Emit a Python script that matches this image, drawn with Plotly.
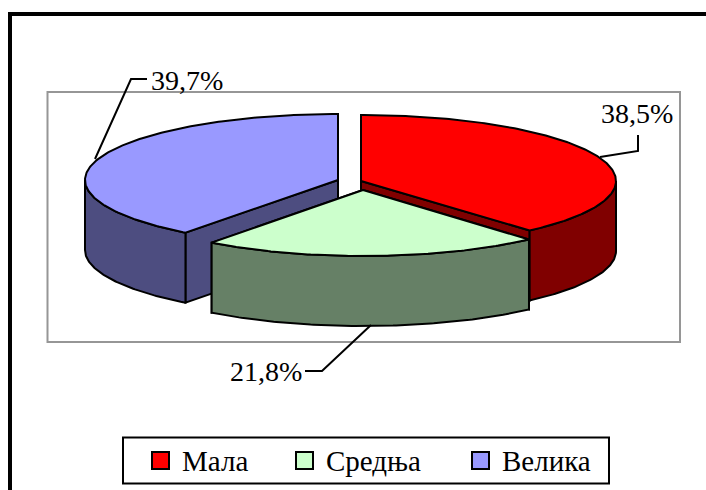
import numpy as np
import plotly.graph_objects as go

categories = ["Мала", "Средња", "Велика"]
shares = [38.5, 21.8, 39.7]
share_labels = ["38,5%", "21,8%", "39,7%"]

top_colors = ["#FF0000", "#CCFFCC", "#9999FF"]
side_colors = ["#800000", "#668066", "#4D4D80"]

# projection of each exploded slice, in pixels of the page
apex_x = [361, 363, 338]
apex_y = [181, 190, 180]
radius_x = [255, 251, 253]
radius_y = [66, 66, 66]
depth = 70
draw_order = [2, 0, 1]

label_x = [637, 265.5, 187]
label_y = [113, 371, 80]
leader_x = [[600, 638, 638], [371, 322, 305], [95, 131, 147]]
leader_y = [[157, 151, 135], [325, 371, 371], [159, 79, 79]]

legend_swatch_x = [160.5, 304.5, 480.5]
legend_text_x = [180, 324, 500]
legend_y = 460.5

FONT = "Liberation Serif"
W, H = 706, 490


def arc(i, a0, a1):
    t = np.radians(np.linspace(a0, a1, max(int(abs(a1 - a0) * 1.5), 2)))
    return (apex_x[i] + radius_x[i] * np.sin(t),
            apex_y[i] - radius_y[i] * np.cos(t))


def add_poly(fig, xs, ys, color):
    fig.add_trace(go.Scatter(
        x=list(xs) + [xs[0]], y=list(ys) + [ys[0]], mode="lines",
        fill="toself", fillcolor=color,
        line=dict(color="black", width=2, shape="linear"),
        hoverinfo="skip", showlegend=False))


fig = go.Figure()

edges = np.concatenate([[0], np.cumsum(shares)]) / sum(shares) * 360

for i in draw_order:
    a0, a1 = edges[i], edges[i + 1]
    ax, ay = apex_x[i], apex_y[i]
    # radial faces
    for a in (a0, a1):
        px, py = arc(i, a, a + 0.001)
        px, py = px[0], py[0]
        add_poly(fig, [ax, px, px, ax], [ay, py, py + depth, ay + depth], side_colors[i])
    # outer wall: the part of the rim on the front of the ellipse
    lo, hi = max(a0, 90), min(a1, 270)
    if hi > lo:
        wx, wy = arc(i, lo, hi)
        add_poly(fig, np.concatenate([wx, wx[::-1]]),
                 np.concatenate([wy, wy[::-1] + depth]), side_colors[i])
    # top face
    tx, ty = arc(i, a0, a1)
    add_poly(fig, np.concatenate([[ax], tx]), np.concatenate([[ay], ty]), top_colors[i])

# leader lines
for xs, ys in zip(leader_x, leader_y):
    fig.add_trace(go.Scatter(x=xs, y=ys, mode="lines",
                             line=dict(color="black", width=2),
                             hoverinfo="skip", showlegend=False))

# legend swatches
fig.add_trace(go.Scatter(
    x=legend_swatch_x, y=[legend_y] * 3, mode="markers",
    marker=dict(symbol="square", size=17, color=top_colors,
                line=dict(color="black", width=2)),
    hoverinfo="skip", showlegend=False))

annotations = []
for t, x, y in zip(share_labels, label_x, label_y):
    annotations.append(dict(x=x, y=y, text=t, showarrow=False, xanchor="center",
                            yanchor="middle", font=dict(family=FONT, size=28, color="black")))
for t, x in zip(categories, legend_text_x):
    annotations.append(dict(x=x, y=legend_y + 0.5, text=t, showarrow=False, xanchor="left",
                            yanchor="middle", font=dict(family=FONT, size=29, color="black")))

shapes = [
    # page frame: top and left rules only
    dict(type="path", path=f"M 10 {H} L 10 14 L {W} 14", line=dict(color="black", width=4),
         layer="below"),
    # plot area
    dict(type="rect", x0=47.5, x1=680, y0=92, y1=342, line=dict(color="#969696", width=2),
         layer="below"),
    # legend box
    dict(type="rect", x0=123, x1=609, y0=437.5, y1=483.5, line=dict(color="black", width=2),
         layer="below"),
]

fig.update_layout(
    width=W, height=H, margin=dict(l=0, r=0, t=0, b=0),
    paper_bgcolor="white", plot_bgcolor="white", showlegend=False,
    xaxis=dict(range=[0, W], visible=False, fixedrange=True),
    yaxis=dict(range=[H, 0], visible=False, fixedrange=True),
    shapes=shapes, annotations=annotations,
)

fig.write_html(
    "out.html",
    config={"displayModeBar": False},
    default_width=f"{W}px",
    default_height=f"{H}px",
    post_script="document.body.style.margin='0';document.documentElement.style.overflow='hidden';",
)
